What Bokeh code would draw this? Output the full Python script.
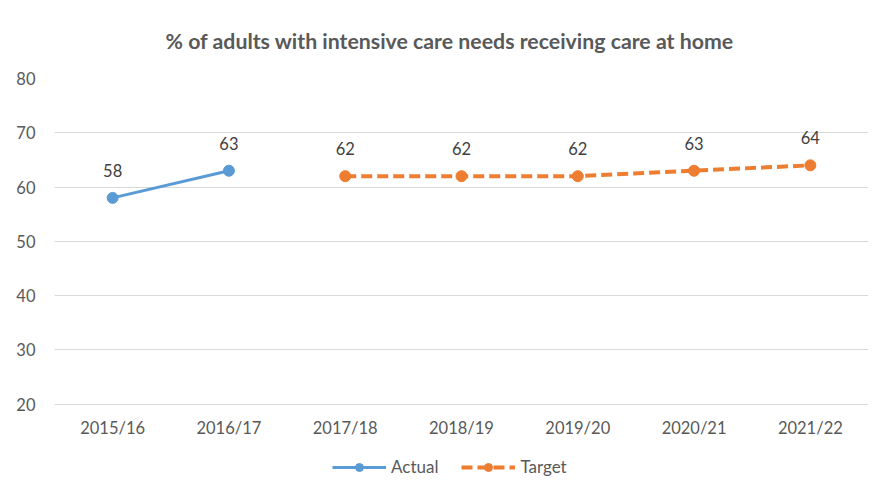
from bokeh.plotting import figure
from bokeh.models import ColumnDataSource, FactorRange, Range1d, Legend, LegendItem, LabelSet, FixedTicker
from bokeh.core.properties import value
from bokeh.embed import file_html
from bokeh.resources import INLINE

years = ["2015/16", "2016/17", "2017/18", "2018/19", "2019/20", "2020/21", "2021/22"]
actual_years = ["2015/16", "2016/17"]
actual_values = [58, 63]
target_years = ["2017/18", "2018/19", "2019/20", "2020/21", "2021/22"]
target_values = [62, 62, 62, 63, 64]
y_ticks = [20, 30, 40, 50, 60, 70, 80]

BLUE = "#5B9BD5"
ORANGE = "#ED7D31"
TXT = "#595959"
FONT = "Lato"

p = figure(width=870, height=494, output_backend="svg", toolbar_location=None,
           x_range=FactorRange(*years, range_padding=0), y_range=Range1d(5, 80),
           title="% of adults with intensive care needs receiving care at home")
p.min_border_left = 54
p.min_border_right = 2
p.min_border_top = 78
p.min_border_bottom = 9
p.outline_line_color = None
p.background_fill_color = "white"
p.border_fill_color = "white"

p.title.align = "left"
p.title.text_font = FONT
p.title.text_font_size = "21.3px"
p.title.text_font_style = "bold"
p.title.text_color = TXT
p.title.offset = 111
p.title.standoff = 50

for ax in (p.xaxis[0], p.yaxis[0]):
    ax.axis_line_color = None
    ax.major_tick_line_color = None
    ax.minor_tick_line_color = None
    ax.major_label_text_font = FONT
    ax.major_label_text_font_size = "16.5px"
    ax.major_label_text_color = TXT
p.yaxis.ticker = FixedTicker(ticks=y_ticks)
p.yaxis.major_label_standoff = 13
p.xaxis.fixed_location = 20
p.xaxis.major_label_standoff = 8
p.xgrid.grid_line_color = None
p.ygrid.grid_line_color = "#D9D9D9"
p.ygrid.grid_line_width = 1

src_a = ColumnDataSource(dict(x=actual_years, y=actual_values, t=[str(v) for v in actual_values]))
src_t = ColumnDataSource(dict(x=target_years, y=target_values, t=[str(v) for v in target_values]))

la = p.line("x", "y", source=src_a, line_color=BLUE, line_width=3)
sa = p.scatter("x", "y", source=src_a, marker="circle", size=11, fill_color=BLUE, line_color=BLUE)
lt = p.line("x", "y", source=src_t, line_color=ORANGE, line_width=4, line_dash="11 5")
st = p.scatter("x", "y", source=src_t, marker="circle", size=11, fill_color=ORANGE, line_color=ORANGE)

for src in (src_a, src_t):
    p.add_layout(LabelSet(x="x", y="y", text="t", source=src, text_align="center",
                          text_baseline="bottom", y_offset=21, text_font=value(FONT),
                          text_font_size=value("16.5px"), text_color="#404040"))

legend = Legend(items=[LegendItem(label="Actual", renderers=[la, sa]),
                       LegendItem(label="Target", renderers=[lt, st])],
                orientation="horizontal", location=(278, 8),
                glyph_width=54, glyph_height=20, label_standoff=5, spacing=23,
                label_text_font=FONT, label_text_font_size="17px", label_text_color=TXT,
                border_line_color=None, background_fill_alpha=0, padding=4, margin=0)
p.add_layout(legend, "center")

open("out.html", "w").write(file_html(p, INLINE))
